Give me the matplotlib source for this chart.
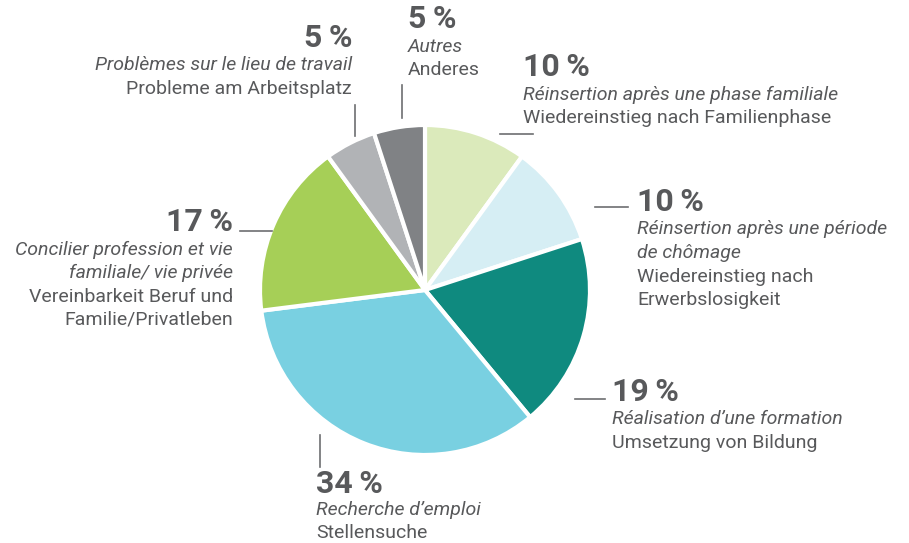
import matplotlib.pyplot as plt

# data (clockwise from 12 o'clock)
shares = [10, 10, 19, 34, 17, 5, 5]
pct_labels = ["10\u2009%", "10\u2009%", "19\u2009%", "34\u2009%", "17\u2009%", "5\u2009%", "5\u2009%"]
fr_labels = [
    "Réinsertion après une phase familiale",
    "Réinsertion après une période\nde chômage",
    "Réalisation d’une formation",
    "Recherche d’emploi",
    "Concilier profession et vie\nfamiliale/ vie privée",
    "Problèmes sur le lieu de travail",
    "Autres",
]
de_labels = [
    "Wiedereinstieg nach Familienphase",
    "Wiedereinstieg nach\nErwerbslosigkeit",
    "Umsetzung von Bildung",
    "Stellensuche",
    "Vereinbarkeit Beruf und\nFamilie/Privatleben",
    "Probleme am Arbeitsplatz",
    "Anderes",
]
colors = ["#dbeabb", "#d6eef4", "#0f8a7f", "#79d0e1", "#a6cf57", "#b1b3b6", "#808285"]

# layout: text anchor (x, y of percent label), alignment, leader line
layout = [
    (523, 67, "left", ((500, 134), (533, 134))),
    (637, 202, "left", ((595, 207), (628, 207))),
    (612, 392, "left", ((575, 399), (605, 399))),
    (316, 484, "left", ((320, 435), (320, 467))),
    (233, 222, "right", ((240, 231), (272, 231))),
    (352, 38, "right", ((355, 105), (355, 136))),
    (408, 19, "left", ((402, 85), (402, 118))),
]

txt = "#58595b"
plt.rcParams["font.family"] = ["Roboto", "DejaVu Sans"]

fig = plt.figure(figsize=(9.09, 5.43), dpi=100)
ax = fig.add_axes([0, 0, 1, 1])

ax.pie(shares, colors=colors, startangle=-90, counterclock=True,
       center=(425, 290), radius=165,
       wedgeprops=dict(edgecolor="white", linewidth=3))

ax.set_xlim(0, 909)
ax.set_ylim(543, 0)
ax.set_aspect("auto")
ax.axis("off")

for i in range(len(shares)):
    x, y, ha, line = layout[i]
    lh = 23.5 if i != 3 else 22.5
    ax.text(x, y, pct_labels[i], fontsize=23, fontweight="bold", color=txt,
            ha=ha, va="center")
    yy = y + (27.5 if i != 3 else 26)
    for ln in fr_labels[i].split("\n"):
        ax.text(x, yy, ln, fontsize=14, style="italic", color=txt, ha=ha, va="center")
        yy += lh
    for ln in de_labels[i].split("\n"):
        ax.text(x, yy, ln, fontsize=14, color=txt, ha=ha, va="center")
        yy += lh
    (x0, y0), (x1, y1) = line
    ax.plot([x0, x1], [y0, y1], color="#6d6e71", lw=1.2)

fig.savefig("out.png", dpi=100)
